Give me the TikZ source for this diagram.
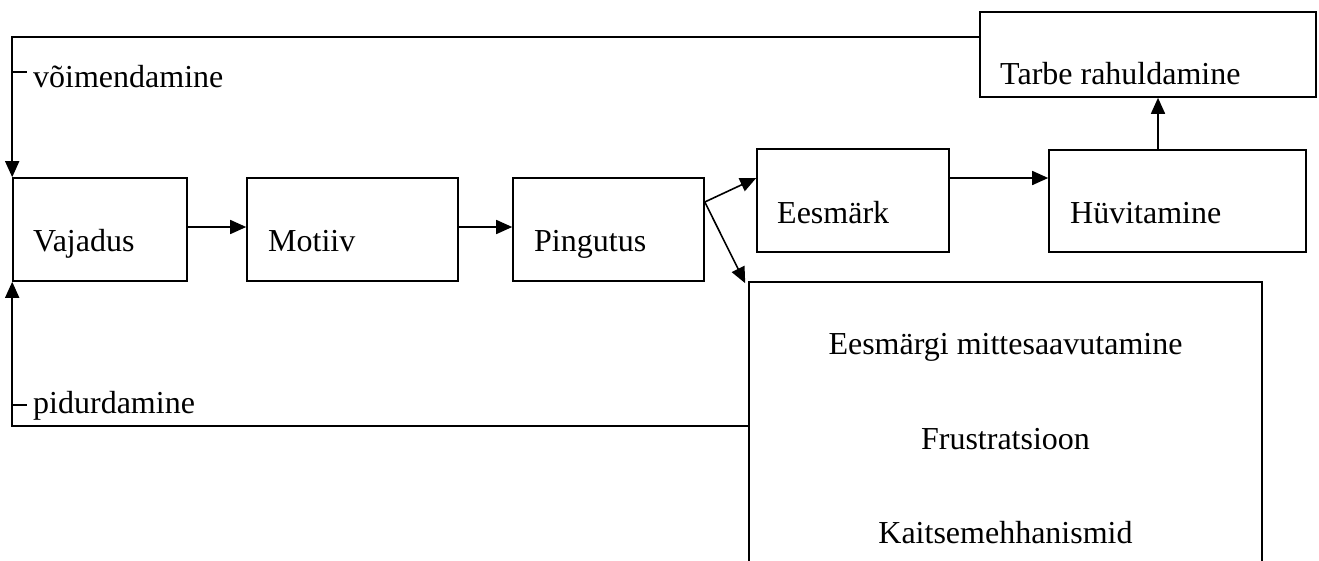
\documentclass[tikz,border=0pt]{standalone}
\usepackage{fontspec}
\setmainfont{Liberation Serif}
\usepackage{tikz}
\usetikzlibrary{calc,arrows.meta}
\tikzset{
  box/.style={draw=black, line width=1.6pt, inner sep=0pt, rectangle},
  conn/.style={draw=black, line width=1.6pt, -{Triangle[length=16pt,width=14pt]}},
  tick/.style={draw=black, line width=1.6pt},
  lab/.style={font=\fontsize{32}{38}\selectfont, inner sep=0pt, anchor=base west},
  labc/.style={lab, anchor=base},
}

\begin{document}
\begin{tikzpicture}[x=1pt,y=-1pt]
  \path[use as bounding box, clip] (0,0) rectangle (1319,560);

  % boxes
  \node[box, minimum width=174pt, minimum height=103pt] (vaj) at (100,229.5) {};
  \node[box, minimum width=211pt, minimum height=103pt] (mot) at (352.5,229.5) {};
  \node[box, minimum width=191pt, minimum height=103pt] (pin) at (608.5,229.5) {};
  \node[box, minimum width=192pt, minimum height=103pt] (ees) at (853,200.5) {};
  \node[box, minimum width=257pt, minimum height=102pt] (huv) at (1177.5,201) {};
  \node[box, minimum width=336pt, minimum height=85pt] (tar) at (1148,54.5) {};
  \node[box, minimum width=513pt, minimum height=320pt] (fail) at (1005.5,442) {};

  % texts
  \node[lab] (t-vaj) at (33,251) {Vajadus};
  \node[lab] (t-mot) at (268,251) {Motiiv};
  \node[lab] (t-pin) at (534,251) {Pingutus};
  \node[lab] (t-ees) at (777,223) {Eesmärk};
  \node[lab] (t-huv) at (1070,223) {Hüvitamine};
  \node[lab] (t-tar) at (1000,84) {Tarbe rahuldamine};
  \node[labc] (t-fail1) at (1005.5,354) {Eesmärgi mittesaavutamine};
  \node[labc] (t-fail2) at (1005.5,449) {Frustratsioon};
  \node[labc] (t-fail3) at (1005.5,543) {Kaitsemehhanismid};

  % main chain
  \draw[conn] (vaj.east |- 0,227) -- (mot.west |- 0,227);
  \draw[conn] (mot.east |- 0,227) -- (pin.west |- 0,227);
  \coordinate (fork) at (pin.east |- 0,202);
  \draw[conn] (fork) -- (ees.west |- 0,178);
  \draw[conn] (fork) -- ($(fail.north west)+(-3,2)$);
  \draw[conn] (ees.east |- 0,178) -- (huv.west |- 0,178);
  \draw[conn] (huv.north -| 1158,0) -- (tar.south -| 1158,0);

  % feedback
  \draw[conn] ($(tar.north west)+(0,26)$) -| (vaj.north west);
  \draw[conn] ($(fail.north west)+(0,145)$) -| (vaj.south west);
  \draw[tick] (13,72) -- (27,72);
  \draw[tick] (13,405) -- (27,405);
  \node[lab] (l-voim) at (33,87) {võimendamine};
  \node[lab] (l-pid) at (33,413) {pidurdamine};
\end{tikzpicture}
\end{document}
